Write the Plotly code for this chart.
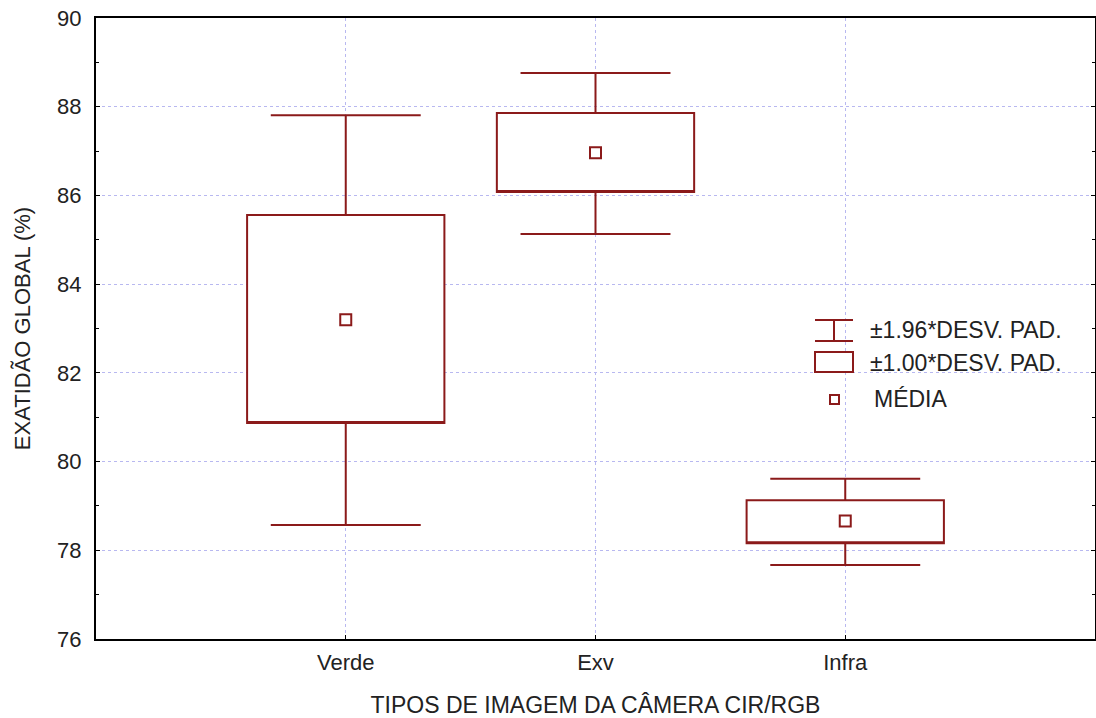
import plotly.graph_objects as go

categories = ["Verde", "Exv", "Infra"]
means = [83.2, 86.96, 78.66]
sd1_low = [80.87, 86.08, 78.16]
sd1_high = [85.56, 87.86, 79.13]
sd196_low = [78.57, 85.13, 77.67]
sd196_high = [87.81, 88.76, 79.61]

red = "#8b1a1a"
font_family = "Liberation Sans, Arial, sans-serif"
fs = 22

fig = go.Figure()
for i, c in enumerate(categories):
    fig.add_trace(go.Box(
        x=[c], q1=[sd1_low[i]], median=[sd1_low[i]], q3=[sd1_high[i]],
        lowerfence=[sd196_low[i]], upperfence=[sd196_high[i]],
        width=0.79, whiskerwidth=0.76,
        line=dict(color=red, width=2), fillcolor="white",
        boxpoints=False, showlegend=False, hoverinfo="skip",
    ))
fig.add_trace(go.Scatter(
    x=categories, y=means, mode="markers",
    marker=dict(symbol="square-open", size=11, color=red, line=dict(width=2, color=red)),
    showlegend=False,
))

# manual legend (pixel -> paper)
L, R, T, B = 96, 1095, 18, 639
def px(x): return (x - L) / (R - L)
def py(y): return (B - y) / (B - T)

shapes = []
ln = dict(color=red, width=2)
shapes.append(dict(type="line", xref="paper", yref="paper", x0=px(815), x1=px(853), y0=py(320), y1=py(320), line=ln))
shapes.append(dict(type="line", xref="paper", yref="paper", x0=px(815), x1=px(853), y0=py(341), y1=py(341), line=ln))
shapes.append(dict(type="line", xref="paper", yref="paper", x0=px(834), x1=px(834), y0=py(320), y1=py(341), line=ln))
shapes.append(dict(type="rect", xref="paper", yref="paper", x0=px(815), x1=px(853), y0=py(352), y1=py(372), line=ln, fillcolor="white"))
shapes.append(dict(type="rect", xref="paper", yref="paper", x0=px(830), x1=px(839), y0=py(395), y1=py(404), line=ln, fillcolor="white"))

annotations = []
for txt, yy, xx in [("±1.96*DESV. PAD.", 330, 868), ("±1.00*DESV. PAD.", 363, 868), ("MÉDIA", 399, 872)]:
    annotations.append(dict(text=txt, xref="paper", yref="paper", x=px(xx), y=py(yy),
                            xanchor="left", yanchor="middle", showarrow=False,
                            font=dict(family=font_family, size=fs + 1, color="#222")))

fig.update_layout(
    width=1096, height=718,
    margin=dict(l=L, r=1096 - R, t=T, b=718 - B),
    paper_bgcolor="white", plot_bgcolor="white",
    font=dict(family=font_family, size=fs, color="#222"),
    shapes=shapes, annotations=annotations,
    showlegend=False,
)
fig.update_xaxes(
    type="category", range=[-1, 3], categoryorder="array", categoryarray=categories,
    showgrid=True, gridcolor="#b8b8f0", griddash="dot", gridwidth=1,
    showline=True, linecolor="black", linewidth=2, mirror=True,
    ticks="inside", ticklen=4, tickcolor="black",
    ticklabelstandoff=3, automargin=False,
    title=dict(text="TIPOS DE IMAGEM DA CÂMERA CIR/RGB", standoff=22, font=dict(size=fs + 1)),
    zeroline=False,
)
fig.update_yaxes(
    range=[76, 90], dtick=2, tick0=76,
    showgrid=True, gridcolor="#b8b8f0", griddash="dot", gridwidth=1,
    showline=True, linecolor="black", linewidth=2, mirror="allticks",
    ticks="inside", ticklen=4, tickcolor="black",
    minor=dict(ticks="inside", ticklen=3, dtick=1, tick0=76, tickcolor="black", showgrid=False),
    ticklabelstandoff=8, automargin=False,
    title=dict(text="EXATIDÃO GLOBAL (%)", standoff=20, font=dict(size=fs)),
    zeroline=False,
)

fig.write_html("out.html", config={"displayModeBar": False},
               post_script="document.body.style.margin='0';document.body.style.overflow='hidden';")
